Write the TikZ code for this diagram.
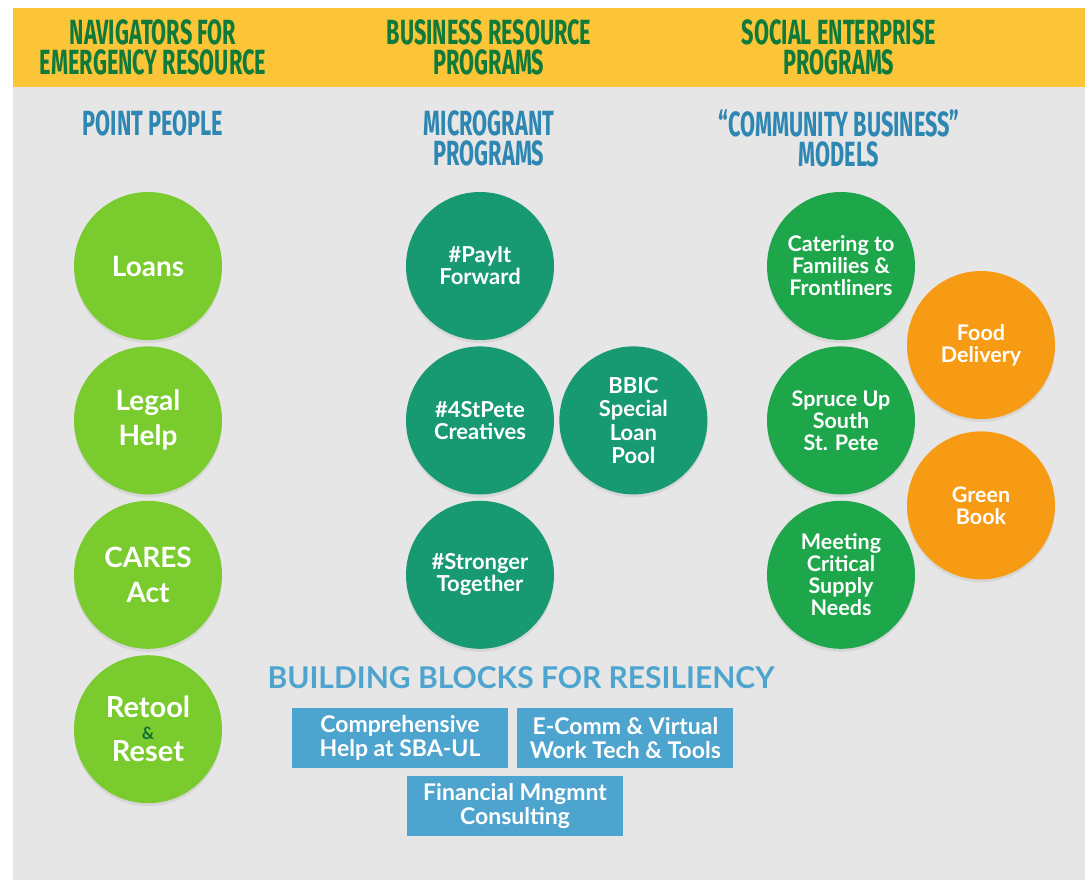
\documentclass[tikz,border=0pt]{standalone}
\usepackage{fontspec}
\setmainfont{Lato}
\newfontfamily\headfont{Fira Sans}[FakeStretch=0.62]
\usetikzlibrary{positioning, shadows}

\definecolor{bandyellow}{HTML}{FCC537}
\definecolor{panelgray}{HTML}{E6E6E6}
\definecolor{headgreen}{HTML}{0F7A3A}
\definecolor{subblue}{HTML}{2E87B2}
\definecolor{limegreen}{HTML}{7ACC2E}
\definecolor{tealgreen}{HTML}{179A72}
\definecolor{bizgreen}{HTML}{1EA64B}
\definecolor{deliveryorange}{HTML}{F89B14}
\definecolor{blockblue}{HTML}{4DA5CF}
\definecolor{ampgreen}{HTML}{0E6F36}

\begin{document}
\begin{tikzpicture}[
    x=1pt, y=-1pt,
    node distance=6pt,
    heading/.style={align=center, text=headgreen, font=\headfont\bfseries\fontsize{35}{30}\selectfont},
    subheading/.style={heading, text=subblue},
    bubble/.style={circle, minimum size=148pt, inner sep=0pt, align=center, text=white,
        drop shadow={opacity=0.15, shadow xshift=0pt, shadow yshift=-3pt}},
    navbubble/.style={bubble, fill=limegreen, font=\bfseries\fontsize{28}{35}\selectfont},
    microbubble/.style={bubble, fill=tealgreen, font=\bfseries\fontsize{22}{22}\selectfont},
    modelbubble/.style={bubble, fill=bizgreen, font=\bfseries\fontsize{21.5}{22}\selectfont},
    deliverybubble/.style={modelbubble, fill=deliveryorange},
    blockbox/.style={rectangle, fill=blockblue, minimum width=216pt, minimum height=60pt,
        inner sep=0pt, align=center, text=white, font=\bfseries\fontsize{23}{24}\selectfont}
]
\useasboundingbox (0,0) rectangle (1085,884);

% Background panels
\fill[panelgray] (13,87) rectangle (1085,880);
\fill[bandyellow] (13,8) rectangle (1085,87);

% Column headings
\node[heading] (navhead) at (153,47) {NAVIGATORS FOR\\EMERGENCY RESOURCE};
\node[heading] (bizhead) at (489,47) {BUSINESS RESOURCE\\PROGRAMS};
\node[heading] (sochead) at (839,47) {SOCIAL ENTERPRISE\\PROGRAMS};

% Sub headings
\node[subheading] (pointhead) at (153,123) {POINT PEOPLE};
\node[subheading] (microhead) at (489,138) {MICROGRANT\\PROGRAMS};
\node[subheading] (modelhead) at (839,138) {“COMMUNITY BUSINESS”\\MODELS};

% Point people
\node[navbubble] (loans) at (148,266) {Loans};
\node[navbubble, below=of loans] (legal) {Legal\\Help};
\node[navbubble, below=of legal] (cares) {CARES\\Act};
\node[navbubble, below=of cares, font=\bfseries\fontsize{29}{22}\selectfont] (retool)
    {Retool\\{\color{ampgreen}\fontsize{17}{22}\selectfont\&}\\Reset};

% Microgrant programs
\node[microbubble] (payit) at (480,266) {\#PayIt\\Forward};
\node[microbubble, below=of payit] (creatives) {\#4StPete\\Creatives};
\node[microbubble, below=of creatives] (stronger) {\#Stronger\\Together};
\node[microbubble, right=5pt of creatives, font=\bfseries\fontsize{22}{23.5}\selectfont] (bbic)
    {BBIC\\Special\\Loan\\Pool};

% Community business models
\node[modelbubble] (catering) at (841,266) {Catering to\\Families \&\\Frontliners};
\node[modelbubble, below=of catering] (spruce) {Spruce Up\\South\\St. Pete};
\node[modelbubble, below=of spruce] (meeting) {Meeting\\Critical\\Supply\\Needs};
\node[deliverybubble] (food) at (981,345) {Food\\Delivery};
\node[deliverybubble, below=12pt of food] (greenbook) {Green\\Book};

% Building blocks
\node[text=blockblue, font=\fontseries{b}\selectfont\fontsize{30}{30}\selectfont] (blockshead) at (521,678)
    {BUILDING BLOCKS FOR RESILIENCY};
\node[blockbox] (sbaul) at (400,738) {Comprehensive\\Help at SBA-UL};
\node[blockbox, right=9pt of sbaul] (ecomm) {E-Comm \& Virtual\\Work Tech \& Tools};
\node[blockbox] (finance) at (515,806) {Financial Mngmnt\\Consulting};

\end{tikzpicture}
\end{document}
